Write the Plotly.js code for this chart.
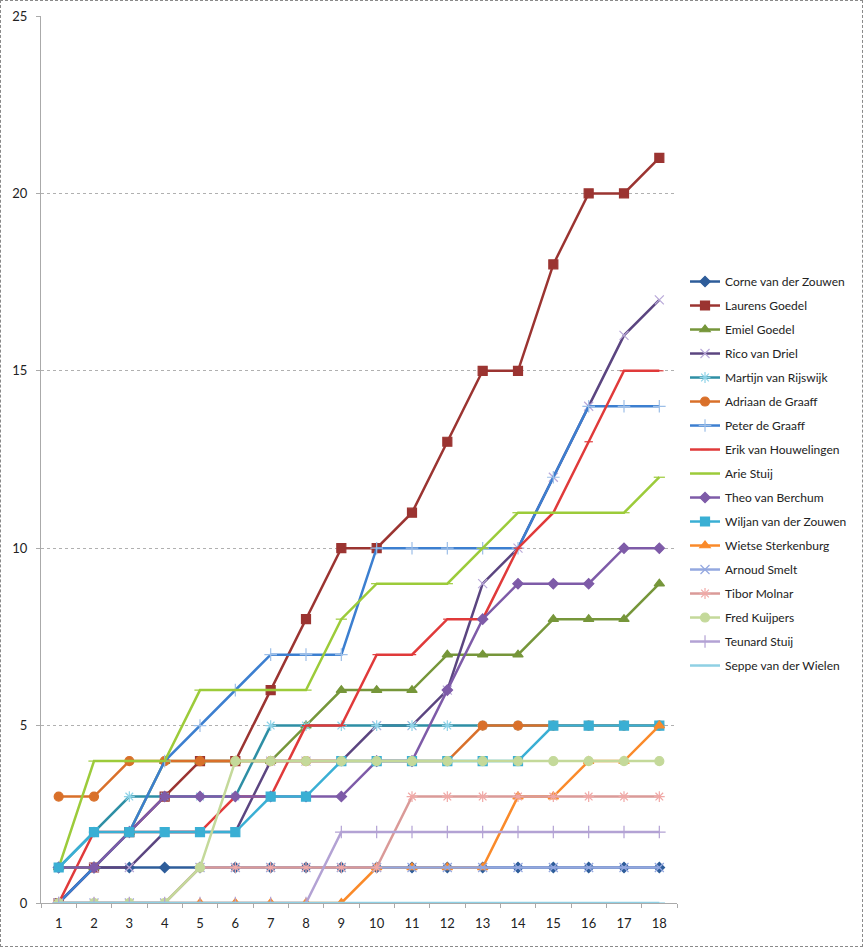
<!DOCTYPE html>
<html>
<head>
<meta charset="utf-8">
<script src="https://cdn.plot.ly/plotly-3.0.1.min.js"></script>
<style>
html,body{margin:0;padding:0;background:#fff;}
#frame{position:absolute;left:0;top:0;width:861px;height:945px;border:1px dashed #8a8a8a;}
#chart{position:absolute;left:0;top:0;width:864px;height:948px;}
</style>
</head>
<body>
<div id="frame"></div>
<div id="chart"></div>
<script>
const rounds = [1,2,3,4,5,6,7,8,9,10,11,12,13,14,15,16,17,18];
const players = ["Corne van der Zouwen","Laurens Goedel","Emiel Goedel","Rico van Driel","Martijn van Rijswijk","Adriaan de Graaff","Peter de Graaff","Erik van Houwelingen","Arie Stuij","Theo van Berchum","Wiljan van der Zouwen","Wietse Sterkenburg","Arnoud Smelt","Tibor Molnar","Fred Kuijpers","Teunard Stuij","Seppe van der Wielen"];

const corne   = [1,1,1,1,1,1,1,1,1,1,1,1,1,1,1,1,1,1];
const laurens = [0,1,2,3,4,4,6,8,10,10,11,13,15,15,18,20,20,21];
const emiel   = [1,1,2,4,4,4,4,5,6,6,6,7,7,7,8,8,8,9];
const rico    = [0,1,1,2,2,2,4,4,4,5,5,6,9,10,12,14,16,17];
const martijn = [1,2,3,3,3,3,5,5,5,5,5,5,5,5,5,5,5,5];
const adriaan = [3,3,4,4,4,4,4,4,4,4,4,4,5,5,5,5,5,5];
const peter   = [0,1,2,4,5,6,7,7,7,10,10,10,10,10,12,14,14,14];
const erik    = [0,2,2,2,2,3,3,5,5,7,7,8,8,10,11,13,15,15];
const arie    = [1,4,4,4,6,6,6,6,8,9,9,9,10,11,11,11,11,12];
const theo    = [1,1,2,3,3,3,3,3,3,4,4,6,8,9,9,9,10,10];
const wiljan  = [1,2,2,2,2,2,3,3,4,4,4,4,4,4,5,5,5,5];
const wietse  = [0,0,0,0,0,0,0,0,0,1,1,1,1,3,3,4,4,5];
const arnoud  = [0,0,0,0,1,1,1,1,1,1,1,1,1,1,1,1,1,1];
const tibor   = [0,0,0,0,1,1,1,1,1,1,3,3,3,3,3,3,3,3];
const fred    = [0,0,0,0,1,4,4,4,4,4,4,4,4,4,4,4,4,4];
const teunard = [0,0,0,0,0,0,0,0,2,2,2,2,2,2,2,2,2,2];
const seppe   = [0,0,0,0,0,0,0,0,0,0,0,0,0,0,0,0,0,0];

const yTicks = [0,5,10,15,20,25];

const seriesValues = [corne,laurens,emiel,rico,martijn,adriaan,peter,erik,arie,theo,wiljan,wietse,arnoud,tibor,fred,teunard,seppe];
const colors = ['#2E5D9A','#9B3431','#76963A','#5B4580','#2E8FA5','#D9702A','#3C7FD0','#E03A3A','#9CCB3A','#7E5BA8','#3AAFD4','#FA8A2A','#94A8E0','#DA9A98','#C4D99A','#B3A2D4','#8FD0E4'];
const symbols = ['diamond','square','triangle-up','x-thin-open','asterisk-open','circle','cross-thin-open','line-ew-open','line-ew-open','diamond','square','triangle-up','x-thin-open','asterisk-open','circle','cross-thin-open','line-ew-open'];
const msizes = [8,9,9,9,9,9,9,6,8,8,9,9,9,9,9,9,8];
const mcolors = ['#2E5D9A','#9B3431','#76963A','#B9A9D9','#8ED3E8','#D9702A','#9DBFE8','#E03A3A','#9CCB3A','#7E5BA8','#3AAFD4','#FA8A2A','#94A8E0','#F0A8A6','#C4D99A','#B3A2D4','#8FD0E4'];

const traces = players.map((name,i)=>({
  x: rounds,
  y: seriesValues[i],
  name: name,
  type: 'scatter',
  mode: 'lines+markers',
  legendgroup: 'g'+i,
  line: {color: colors[i], width: 2.5},
  marker: {symbol: symbols[i], size: msizes[i], color: mcolors[i], line: {color: mcolors[i], width: 1.2}},
  hoverinfo: 'skip'
}));

const layout = {
  width: 864, height: 948,
  margin: {l: 41, r: 187, t: 16, b: 45},
  paper_bgcolor: 'rgba(0,0,0,0)',
  plot_bgcolor: 'rgba(0,0,0,0)',
  font: {family: 'Lato, "Open Sans", sans-serif', size: 12, color: '#222'},
  showlegend: true,
  legend: {
    x: 1.0126, xanchor: 'left', y: 0.717, yanchor: 'top',
    traceorder: 'grouped', tracegroupgap: 5,
    font: {family: 'Lato, sans-serif', size: 12, color: '#222'},
    bgcolor: 'rgba(0,0,0,0)'
  },
  xaxis: {
    range: [0.5, 18.5],
    tickmode: 'array', tickvals: rounds, ticktext: rounds.map(String),
    ticks: '', showgrid: false, zeroline: false,
    showline: true, linecolor: '#aaaaaa', linewidth: 1,
    tickfont: {family: 'Lato, sans-serif', size: 13, color: '#222'},
    ticklabelstandoff: 8,
    minor: {tick0: 0.5, dtick: 1, ticks: 'outside', ticklen: 4, tickcolor: '#aaaaaa', showgrid: false}
  },
  yaxis: {
    range: [0, 25],
    tickmode: 'array', tickvals: yTicks, ticktext: yTicks.map(String),
    ticks: 'outside', ticklen: 4, tickcolor: '#aaaaaa',
    showgrid: true, gridcolor: '#b0b0b0', griddash: 'dot', gridwidth: 1,
    zeroline: false, showline: true, linecolor: '#aaaaaa', linewidth: 1,
    tickfont: {family: 'Lato, sans-serif', size: 13, color: '#222'},
    ticklabelstandoff: 6
  }
};

Plotly.newPlot('chart', traces, layout, {staticPlot: true, displayModeBar: false});
</script>
</body>
</html>
